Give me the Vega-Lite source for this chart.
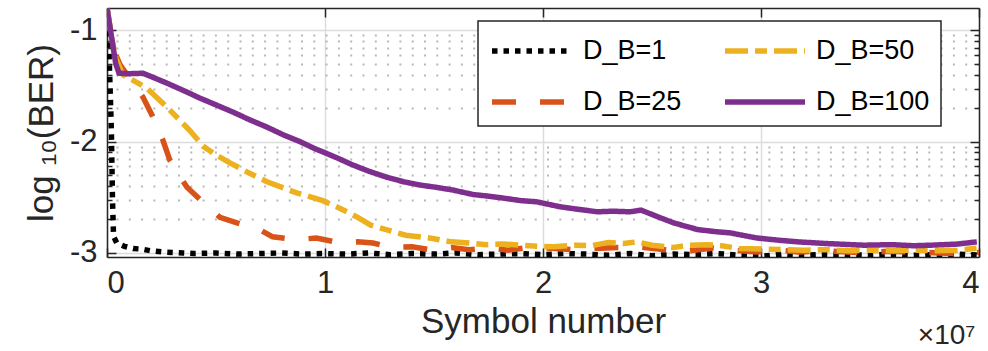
{
  "$schema": "https://vega.github.io/schema/vega-lite/v6.json",
  "width": 872,
  "height": 249,
  "autosize": {"type": "none"},
  "padding": {"left": 107, "top": 8, "right": 9, "bottom": 94},
  "background": "white",
  "config": {
    "font": "Liberation Sans",
    "view": {"stroke": null},
    "axis": {
      "labelFont": "Liberation Sans",
      "titleFont": "Liberation Sans",
      "labelColor": "#262626",
      "titleColor": "#262626",
      "domainColor": "#262626",
      "domainWidth": 1.5,
      "tickColor": "#262626",
      "tickWidth": 1.5,
      "titleFontWeight": "normal"
    },
    "legend": {
      "orient": "none",
      "legendX": 371,
      "legendY": 13,
      "columns": 2,
      "title": null,
      "symbolType": "M-2.5,0H2.5",
      "symbolSize": 1024,
      "symbolOffset": 24,
      "symbolStrokeWidth": 5.5,
      "labelFont": "Liberation Sans",
      "labelFontSize": 27,
      "labelColor": "#000000",
      "labelOffset": 32,
      "labelLimit": 0,
      "strokeColor": "#262626",
      "strokeWidth": 1.5,
      "fillColor": "white",
      "padding": 11,
      "columnPadding": 32,
      "rowPadding": 19
    }
  },
  "datasets": {
    "ber": [
      {"series": "D_B=1", "symbol": 0, "log10ber": -0.8},
      {"series": "D_B=1", "symbol": 100000, "log10ber": -1.25},
      {"series": "D_B=1", "symbol": 200000, "log10ber": -1.9},
      {"series": "D_B=1", "symbol": 250000, "log10ber": -2.5},
      {"series": "D_B=1", "symbol": 300000, "log10ber": -2.85},
      {"series": "D_B=1", "symbol": 450000, "log10ber": -2.91},
      {"series": "D_B=1", "symbol": 800000, "log10ber": -2.94},
      {"series": "D_B=1", "symbol": 1200000, "log10ber": -2.96},
      {"series": "D_B=1", "symbol": 1600000, "log10ber": -2.965},
      {"series": "D_B=1", "symbol": 2000000, "log10ber": -2.98},
      {"series": "D_B=1", "symbol": 2500000, "log10ber": -2.99},
      {"series": "D_B=1", "symbol": 3000000, "log10ber": -2.995},
      {"series": "D_B=1", "symbol": 3500000, "log10ber": -3.0},
      {"series": "D_B=1", "symbol": 4000000, "log10ber": -3.005},
      {"series": "D_B=1", "symbol": 5000000, "log10ber": -3.0},
      {"series": "D_B=1", "symbol": 6000000, "log10ber": -3.01},
      {"series": "D_B=1", "symbol": 7000000, "log10ber": -3.005},
      {"series": "D_B=1", "symbol": 8000000, "log10ber": -3.0},
      {"series": "D_B=1", "symbol": 9000000, "log10ber": -3.01},
      {"series": "D_B=1", "symbol": 10000000, "log10ber": -3.005},
      {"series": "D_B=1", "symbol": 11000000, "log10ber": -3.01},
      {"series": "D_B=1", "symbol": 12000000, "log10ber": -3.0},
      {"series": "D_B=1", "symbol": 13000000, "log10ber": -3.015},
      {"series": "D_B=1", "symbol": 14000000, "log10ber": -3.005},
      {"series": "D_B=1", "symbol": 15000000, "log10ber": -3.01},
      {"series": "D_B=1", "symbol": 16000000, "log10ber": -3.0},
      {"series": "D_B=1", "symbol": 17000000, "log10ber": -3.015},
      {"series": "D_B=1", "symbol": 18000000, "log10ber": -3.01},
      {"series": "D_B=1", "symbol": 19000000, "log10ber": -3.005},
      {"series": "D_B=1", "symbol": 20000000, "log10ber": -3.015},
      {"series": "D_B=1", "symbol": 21000000, "log10ber": -3.005},
      {"series": "D_B=1", "symbol": 22000000, "log10ber": -3.01},
      {"series": "D_B=1", "symbol": 23000000, "log10ber": -3.02},
      {"series": "D_B=1", "symbol": 24000000, "log10ber": -3.005},
      {"series": "D_B=1", "symbol": 25000000, "log10ber": -3.025},
      {"series": "D_B=1", "symbol": 26000000, "log10ber": -3.01},
      {"series": "D_B=1", "symbol": 27000000, "log10ber": -3.015},
      {"series": "D_B=1", "symbol": 28000000, "log10ber": -3.005},
      {"series": "D_B=1", "symbol": 29000000, "log10ber": -3.02},
      {"series": "D_B=1", "symbol": 30000000, "log10ber": -3.03},
      {"series": "D_B=1", "symbol": 31000000, "log10ber": -3.01},
      {"series": "D_B=1", "symbol": 32000000, "log10ber": -3.02},
      {"series": "D_B=1", "symbol": 33000000, "log10ber": -3.01},
      {"series": "D_B=1", "symbol": 34000000, "log10ber": -3.015},
      {"series": "D_B=1", "symbol": 35000000, "log10ber": -3.02},
      {"series": "D_B=1", "symbol": 36000000, "log10ber": -3.01},
      {"series": "D_B=1", "symbol": 37000000, "log10ber": -3.02},
      {"series": "D_B=1", "symbol": 38000000, "log10ber": -3.015},
      {"series": "D_B=1", "symbol": 39000000, "log10ber": -3.01},
      {"series": "D_B=1", "symbol": 40000000, "log10ber": -3.02},

      {"series": "D_B=25", "symbol": 0, "log10ber": -0.8},
      {"series": "D_B=25", "symbol": 200000, "log10ber": -1.05},
      {"series": "D_B=25", "symbol": 400000, "log10ber": -1.22},
      {"series": "D_B=25", "symbol": 600000, "log10ber": -1.31},
      {"series": "D_B=25", "symbol": 1000000, "log10ber": -1.42},
      {"series": "D_B=25", "symbol": 1650000, "log10ber": -1.6},
      {"series": "D_B=25", "symbol": 2060000, "log10ber": -1.76},
      {"series": "D_B=25", "symbol": 2570000, "log10ber": -1.99},
      {"series": "D_B=25", "symbol": 2890000, "log10ber": -2.17},
      {"series": "D_B=25", "symbol": 3300000, "log10ber": -2.3},
      {"series": "D_B=25", "symbol": 3670000, "log10ber": -2.41},
      {"series": "D_B=25", "symbol": 4270000, "log10ber": -2.52},
      {"series": "D_B=25", "symbol": 5180000, "log10ber": -2.68},
      {"series": "D_B=25", "symbol": 5960000, "log10ber": -2.73},
      {"series": "D_B=25", "symbol": 7000000, "log10ber": -2.79},
      {"series": "D_B=25", "symbol": 7600000, "log10ber": -2.855},
      {"series": "D_B=25", "symbol": 8700000, "log10ber": -2.88},
      {"series": "D_B=25", "symbol": 9600000, "log10ber": -2.865},
      {"series": "D_B=25", "symbol": 10700000, "log10ber": -2.91},
      {"series": "D_B=25", "symbol": 11500000, "log10ber": -2.9},
      {"series": "D_B=25", "symbol": 12200000, "log10ber": -2.91},
      {"series": "D_B=25", "symbol": 13000000, "log10ber": -2.95},
      {"series": "D_B=25", "symbol": 14000000, "log10ber": -2.945},
      {"series": "D_B=25", "symbol": 14800000, "log10ber": -2.97},
      {"series": "D_B=25", "symbol": 15800000, "log10ber": -2.95},
      {"series": "D_B=25", "symbol": 16600000, "log10ber": -2.97},
      {"series": "D_B=25", "symbol": 17500000, "log10ber": -2.955},
      {"series": "D_B=25", "symbol": 18400000, "log10ber": -2.975},
      {"series": "D_B=25", "symbol": 19300000, "log10ber": -2.95},
      {"series": "D_B=25", "symbol": 20200000, "log10ber": -2.955},
      {"series": "D_B=25", "symbol": 21400000, "log10ber": -2.97},
      {"series": "D_B=25", "symbol": 22900000, "log10ber": -2.955},
      {"series": "D_B=25", "symbol": 24450000, "log10ber": -2.946},
      {"series": "D_B=25", "symbol": 25300000, "log10ber": -2.965},
      {"series": "D_B=25", "symbol": 26300000, "log10ber": -2.99},
      {"series": "D_B=25", "symbol": 27800000, "log10ber": -2.955},
      {"series": "D_B=25", "symbol": 28800000, "log10ber": -2.975},
      {"series": "D_B=25", "symbol": 29800000, "log10ber": -2.99},
      {"series": "D_B=25", "symbol": 30800000, "log10ber": -2.975},
      {"series": "D_B=25", "symbol": 31700000, "log10ber": -2.99},
      {"series": "D_B=25", "symbol": 33000000, "log10ber": -2.98},
      {"series": "D_B=25", "symbol": 34700000, "log10ber": -3.0},
      {"series": "D_B=25", "symbol": 35800000, "log10ber": -2.985},
      {"series": "D_B=25", "symbol": 37000000, "log10ber": -2.99},
      {"series": "D_B=25", "symbol": 38200000, "log10ber": -3.0},
      {"series": "D_B=25", "symbol": 39300000, "log10ber": -3.01},
      {"series": "D_B=25", "symbol": 40000000, "log10ber": -2.995},

      {"series": "D_B=50", "symbol": 0, "log10ber": -0.8},
      {"series": "D_B=50", "symbol": 200000, "log10ber": -1.05},
      {"series": "D_B=50", "symbol": 400000, "log10ber": -1.25},
      {"series": "D_B=50", "symbol": 730000, "log10ber": -1.4},
      {"series": "D_B=50", "symbol": 1200000, "log10ber": -1.45},
      {"series": "D_B=50", "symbol": 1830000, "log10ber": -1.52},
      {"series": "D_B=50", "symbol": 2750000, "log10ber": -1.69},
      {"series": "D_B=50", "symbol": 3800000, "log10ber": -1.9},
      {"series": "D_B=50", "symbol": 4400000, "log10ber": -2.04},
      {"series": "D_B=50", "symbol": 5000000, "log10ber": -2.12},
      {"series": "D_B=50", "symbol": 5640000, "log10ber": -2.19},
      {"series": "D_B=50", "symbol": 6500000, "log10ber": -2.28},
      {"series": "D_B=50", "symbol": 7340000, "log10ber": -2.36},
      {"series": "D_B=50", "symbol": 8700000, "log10ber": -2.46},
      {"series": "D_B=50", "symbol": 9900000, "log10ber": -2.53},
      {"series": "D_B=50", "symbol": 10700000, "log10ber": -2.6},
      {"series": "D_B=50", "symbol": 11500000, "log10ber": -2.68},
      {"series": "D_B=50", "symbol": 12100000, "log10ber": -2.75},
      {"series": "D_B=50", "symbol": 12800000, "log10ber": -2.79},
      {"series": "D_B=50", "symbol": 13700000, "log10ber": -2.84},
      {"series": "D_B=50", "symbol": 14800000, "log10ber": -2.865},
      {"series": "D_B=50", "symbol": 15800000, "log10ber": -2.9},
      {"series": "D_B=50", "symbol": 16600000, "log10ber": -2.91},
      {"series": "D_B=50", "symbol": 17400000, "log10ber": -2.925},
      {"series": "D_B=50", "symbol": 18200000, "log10ber": -2.92},
      {"series": "D_B=50", "symbol": 19000000, "log10ber": -2.93},
      {"series": "D_B=50", "symbol": 19800000, "log10ber": -2.94},
      {"series": "D_B=50", "symbol": 20500000, "log10ber": -2.945},
      {"series": "D_B=50", "symbol": 21500000, "log10ber": -2.93},
      {"series": "D_B=50", "symbol": 22200000, "log10ber": -2.935},
      {"series": "D_B=50", "symbol": 23000000, "log10ber": -2.905},
      {"series": "D_B=50", "symbol": 23700000, "log10ber": -2.915},
      {"series": "D_B=50", "symbol": 24300000, "log10ber": -2.9},
      {"series": "D_B=50", "symbol": 25000000, "log10ber": -2.93},
      {"series": "D_B=50", "symbol": 26000000, "log10ber": -2.95},
      {"series": "D_B=50", "symbol": 26700000, "log10ber": -2.93},
      {"series": "D_B=50", "symbol": 27500000, "log10ber": -2.925},
      {"series": "D_B=50", "symbol": 28200000, "log10ber": -2.935},
      {"series": "D_B=50", "symbol": 29000000, "log10ber": -2.96},
      {"series": "D_B=50", "symbol": 30000000, "log10ber": -2.965},
      {"series": "D_B=50", "symbol": 31000000, "log10ber": -2.97},
      {"series": "D_B=50", "symbol": 32000000, "log10ber": -2.975},
      {"series": "D_B=50", "symbol": 33000000, "log10ber": -2.97},
      {"series": "D_B=50", "symbol": 34000000, "log10ber": -2.98},
      {"series": "D_B=50", "symbol": 35000000, "log10ber": -2.975},
      {"series": "D_B=50", "symbol": 36000000, "log10ber": -2.98},
      {"series": "D_B=50", "symbol": 37000000, "log10ber": -2.975},
      {"series": "D_B=50", "symbol": 38000000, "log10ber": -2.98},
      {"series": "D_B=50", "symbol": 39000000, "log10ber": -2.975},
      {"series": "D_B=50", "symbol": 40000000, "log10ber": -2.955},

      {"series": "D_B=100", "symbol": 0, "log10ber": -0.8},
      {"series": "D_B=100", "symbol": 200000, "log10ber": -1.05},
      {"series": "D_B=100", "symbol": 400000, "log10ber": -1.3},
      {"series": "D_B=100", "symbol": 550000, "log10ber": -1.385},
      {"series": "D_B=100", "symbol": 1000000, "log10ber": -1.39},
      {"series": "D_B=100", "symbol": 1650000, "log10ber": -1.386},
      {"series": "D_B=100", "symbol": 2200000, "log10ber": -1.43},
      {"series": "D_B=100", "symbol": 2750000, "log10ber": -1.475},
      {"series": "D_B=100", "symbol": 3500000, "log10ber": -1.54},
      {"series": "D_B=100", "symbol": 4270000, "log10ber": -1.61},
      {"series": "D_B=100", "symbol": 5000000, "log10ber": -1.67},
      {"series": "D_B=100", "symbol": 5780000, "log10ber": -1.735},
      {"series": "D_B=100", "symbol": 6500000, "log10ber": -1.8},
      {"series": "D_B=100", "symbol": 7340000, "log10ber": -1.87},
      {"series": "D_B=100", "symbol": 8100000, "log10ber": -1.94},
      {"series": "D_B=100", "symbol": 8850000, "log10ber": -2.0},
      {"series": "D_B=100", "symbol": 9500000, "log10ber": -2.06},
      {"series": "D_B=100", "symbol": 10000000, "log10ber": -2.1},
      {"series": "D_B=100", "symbol": 10600000, "log10ber": -2.15},
      {"series": "D_B=100", "symbol": 11280000, "log10ber": -2.21},
      {"series": "D_B=100", "symbol": 12000000, "log10ber": -2.265},
      {"series": "D_B=100", "symbol": 12840000, "log10ber": -2.32},
      {"series": "D_B=100", "symbol": 13600000, "log10ber": -2.36},
      {"series": "D_B=100", "symbol": 14360000, "log10ber": -2.39},
      {"series": "D_B=100", "symbol": 15100000, "log10ber": -2.41},
      {"series": "D_B=100", "symbol": 15870000, "log10ber": -2.435},
      {"series": "D_B=100", "symbol": 16800000, "log10ber": -2.475},
      {"series": "D_B=100", "symbol": 17500000, "log10ber": -2.49},
      {"series": "D_B=100", "symbol": 18170000, "log10ber": -2.507},
      {"series": "D_B=100", "symbol": 19000000, "log10ber": -2.53},
      {"series": "D_B=100", "symbol": 19700000, "log10ber": -2.54},
      {"series": "D_B=100", "symbol": 20780000, "log10ber": -2.585},
      {"series": "D_B=100", "symbol": 21700000, "log10ber": -2.61},
      {"series": "D_B=100", "symbol": 22500000, "log10ber": -2.63},
      {"series": "D_B=100", "symbol": 23200000, "log10ber": -2.625},
      {"series": "D_B=100", "symbol": 24000000, "log10ber": -2.63},
      {"series": "D_B=100", "symbol": 24500000, "log10ber": -2.615},
      {"series": "D_B=100", "symbol": 25200000, "log10ber": -2.67},
      {"series": "D_B=100", "symbol": 26000000, "log10ber": -2.73},
      {"series": "D_B=100", "symbol": 27100000, "log10ber": -2.79},
      {"series": "D_B=100", "symbol": 28000000, "log10ber": -2.81},
      {"series": "D_B=100", "symbol": 28600000, "log10ber": -2.82},
      {"series": "D_B=100", "symbol": 29800000, "log10ber": -2.865},
      {"series": "D_B=100", "symbol": 30800000, "log10ber": -2.885},
      {"series": "D_B=100", "symbol": 31700000, "log10ber": -2.9},
      {"series": "D_B=100", "symbol": 33000000, "log10ber": -2.915},
      {"series": "D_B=100", "symbol": 34700000, "log10ber": -2.93},
      {"series": "D_B=100", "symbol": 36000000, "log10ber": -2.925},
      {"series": "D_B=100", "symbol": 37000000, "log10ber": -2.935},
      {"series": "D_B=100", "symbol": 37800000, "log10ber": -2.93},
      {"series": "D_B=100", "symbol": 39000000, "log10ber": -2.92},
      {"series": "D_B=100", "symbol": 39900000, "log10ber": -2.9}
    ]
  },
  "data": {"name": "ber"},
  "resolve": {"axis": {"x": "independent", "y": "independent"}},
  "layer": [
    {
      "transform": [{"filter": "datum.series == 'D_B=1'"}],
      "mark": {"type": "line", "strokeWidth": 5.5, "clip": true, "strokeCap": "butt"},
      "encoding": {
        "x": {
          "field": "symbol", "type": "quantitative",
          "scale": {"domain": [0, 40000000], "nice": false, "zero": false},
          "axis": {
            "orient": "bottom",
            "values": [0, 10000000, 20000000, 30000000, 40000000],
            "labelExpr": "format(datum.value / 10000000, 'd')",
            "labelFontSize": 31,
            "labelPadding": 11,
            "ticks": false,
            "domain": false,
            "grid": true,
            "gridColor": "#dcdcdc",
            "gridWidth": 1.5,
            "title": "Symbol number",
            "titleFontSize": 35,
            "titlePadding": 6
          }
        },
        "y": {
          "field": "log10ber", "type": "quantitative",
          "scale": {"domain": [-3.036, -0.8], "nice": false, "zero": false},
          "axis": {
            "orient": "left",
            "values": [-3, -2, -1],
            "labelExpr": "'-' + format(abs(datum.value), 'd')",
            "labelFontSize": 31,
            "labelPadding": 10,
            "ticks": false,
            "domain": false,
            "grid": false,
            "title": "log ₁₀(BER)",
            "titleFontSize": 35,
            "titlePadding": 10
          }
        },
        "color": {
          "field": "series", "type": "nominal",
          "scale": {"domain": ["D_B=1", "D_B=25", "D_B=50", "D_B=100"], "range": ["#000000", "#D95319", "#EDB120", "#7E2F8E"]}
        },
        "strokeDash": {
          "field": "series", "type": "nominal",
          "scale": {"domain": ["D_B=1", "D_B=25", "D_B=50", "D_B=100"], "range": [[5.5, 6], [24, 24], [23, 7, 12, 7], [1, 0]]}
        }
      }
    },
    {
      "transform": [{"filter": "datum.series == 'D_B=25'"}],
      "mark": {"type": "line", "strokeWidth": 5.5, "clip": true},
      "encoding": {
        "x": {
          "field": "symbol", "type": "quantitative",
          "scale": {"domain": [0, 40000000], "nice": false, "zero": false},
          "axis": {
            "orient": "top",
            "values": [0, 10000000, 20000000, 30000000, 40000000],
            "labels": false,
            "ticks": true,
            "tickSize": -9,
            "domain": true,
            "grid": false,
            "title": "×10⁷",
            "titleFontSize": 28,
            "titleAngle": 0,
            "titleAlign": "right",
            "titleBaseline": "alphabetic",
            "titleX": 868,
            "titleY": 335
          }
        },
        "y": {
          "field": "log10ber", "type": "quantitative",
          "scale": {"domain": [-3.036, -0.8], "nice": false, "zero": false},
          "axis": {
            "orient": "right",
            "values": [-3, -2.699, -2.5229, -2.3979, -2.301, -2.2218, -2.1549, -2.0969, -2.0458, -2, -1.699, -1.5229, -1.3979, -1.301, -1.2218, -1.1549, -1.0969, -1.0458, -1],
            "labels": false,
            "ticks": true,
            "tickSize": {"condition": {"test": "abs(datum.value - round(datum.value)) < 0.001", "value": -9}, "value": -5},
            "domain": true,
            "grid": true,
            "gridColor": {"condition": {"test": "abs(datum.value - round(datum.value)) < 0.001", "value": "#dcdcdc"}, "value": "#b8b8b8"},
            "gridWidth": {"condition": {"test": "abs(datum.value - round(datum.value)) < 0.001", "value": 1.5}, "value": 2},
            "gridDash": {"condition": {"test": "abs(datum.value - round(datum.value)) < 0.001", "value": [1, 0]}, "value": [2, 10.3]},
            "title": null
          }
        },
        "color": {"field": "series", "type": "nominal", "scale": {"domain": ["D_B=1", "D_B=25", "D_B=50", "D_B=100"], "range": ["#000000", "#D95319", "#EDB120", "#7E2F8E"]}},
        "strokeDash": {"field": "series", "type": "nominal", "scale": {"domain": ["D_B=1", "D_B=25", "D_B=50", "D_B=100"], "range": [[5.5, 6], [24, 24], [23, 7, 12, 7], [1, 0]]}}
      }
    },
    {
      "transform": [{"filter": "datum.series == 'D_B=50'"}],
      "mark": {"type": "line", "strokeWidth": 5.5, "clip": true},
      "encoding": {
        "x": {
          "field": "symbol", "type": "quantitative",
          "scale": {"domain": [0, 40000000], "nice": false, "zero": false},
          "axis": {
            "orient": "bottom",
            "values": [0, 10000000, 20000000, 30000000, 40000000],
            "labels": false,
            "ticks": true,
            "tickSize": -9,
            "domain": true,
            "grid": false,
            "title": null
          }
        },
        "y": {
          "field": "log10ber", "type": "quantitative",
          "scale": {"domain": [-3.036, -0.8], "nice": false, "zero": false},
          "axis": {
            "orient": "left",
            "values": [-3, -2.699, -2.5229, -2.3979, -2.301, -2.2218, -2.1549, -2.0969, -2.0458, -2, -1.699, -1.5229, -1.3979, -1.301, -1.2218, -1.1549, -1.0969, -1.0458, -1],
            "labels": false,
            "ticks": true,
            "tickSize": {"condition": {"test": "abs(datum.value - round(datum.value)) < 0.001", "value": -9}, "value": -5},
            "domain": true,
            "grid": false,
            "title": null
          }
        },
        "color": {"field": "series", "type": "nominal", "scale": {"domain": ["D_B=1", "D_B=25", "D_B=50", "D_B=100"], "range": ["#000000", "#D95319", "#EDB120", "#7E2F8E"]}},
        "strokeDash": {"field": "series", "type": "nominal", "scale": {"domain": ["D_B=1", "D_B=25", "D_B=50", "D_B=100"], "range": [[5.5, 6], [24, 24], [23, 7, 12, 7], [1, 0]]}}
      }
    },
    {
      "transform": [{"filter": "datum.series == 'D_B=100'"}],
      "mark": {"type": "line", "strokeWidth": 5.5, "clip": true},
      "encoding": {
        "x": {"field": "symbol", "type": "quantitative", "scale": {"domain": [0, 40000000], "nice": false, "zero": false}, "axis": null},
        "y": {"field": "log10ber", "type": "quantitative", "scale": {"domain": [-3.036, -0.8], "nice": false, "zero": false}, "axis": null},
        "color": {"field": "series", "type": "nominal", "scale": {"domain": ["D_B=1", "D_B=25", "D_B=50", "D_B=100"], "range": ["#000000", "#D95319", "#EDB120", "#7E2F8E"]}},
        "strokeDash": {"field": "series", "type": "nominal", "scale": {"domain": ["D_B=1", "D_B=25", "D_B=50", "D_B=100"], "range": [[5.5, 6], [24, 24], [23, 7, 12, 7], [1, 0]]}}
      }
    }
  ]
}
